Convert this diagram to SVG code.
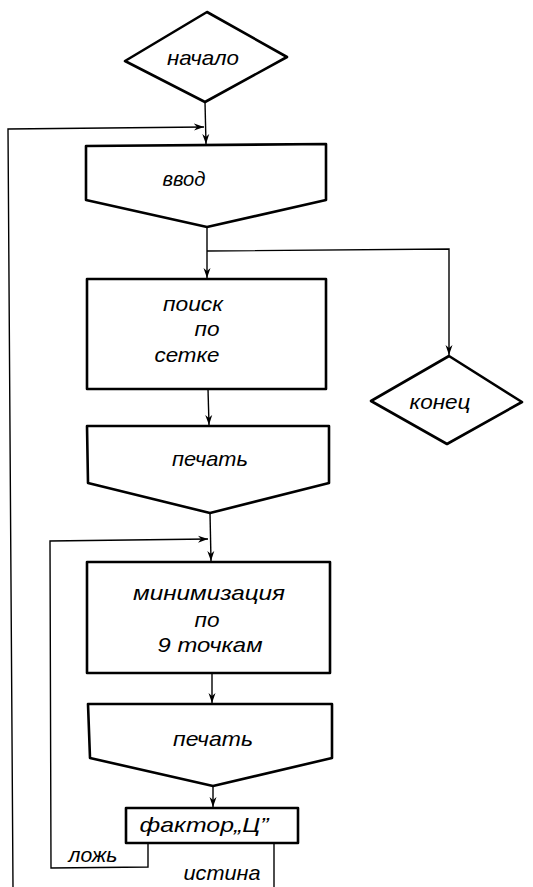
<svg xmlns="http://www.w3.org/2000/svg" width="533" height="887" viewBox="0 0 533 887">
<style>
.shape{fill:#fff;stroke:#000;stroke-width:2.6;stroke-linejoin:round}
.conn{fill:none;stroke:#000;stroke-width:1.4}
.t{font-family:"Liberation Sans",Arial,sans-serif;font-style:italic;font-size:21px;fill:#000}
</style>
<defs>
<marker id="ah" viewBox="0 0 10 10" refX="10" refY="5" markerWidth="10" markerHeight="10" markerUnits="userSpaceOnUse" orient="auto">
<path d="M0,1.5 L10,5 L0,8.5 L3,5 Z" fill="#000"/>
</marker>
</defs>
<rect width="533" height="887" fill="#fff"/>
<g id="connectors">
<line class="conn" x1="205" y1="102" x2="206" y2="144" marker-end="url(#ah)"/>
<polyline class="conn" points="13,887 8,129 204,127" marker-end="url(#ah)"/>
<line class="conn" x1="207" y1="228" x2="207" y2="278" marker-end="url(#ah)"/>
<polyline class="conn" points="207,251 449,249 449,355" marker-end="url(#ah)"/>
<line class="conn" x1="208" y1="389" x2="209" y2="425" marker-end="url(#ah)"/>
<line class="conn" x1="210" y1="513" x2="211" y2="561" marker-end="url(#ah)"/>
<polyline class="conn" points="148,843 148,867 51,868 50,541 208,539" marker-end="url(#ah)"/>
<line class="conn" x1="212" y1="673" x2="212" y2="703" marker-end="url(#ah)"/>
<line class="conn" x1="213" y1="786" x2="213" y2="807" marker-end="url(#ah)"/>
<line class="conn" x1="274" y1="843" x2="274" y2="887"/>
</g>
<g id="start">
<polygon class="shape" points="207,12 287,57 205,102 125,61"/>
<text class="t" x="203" y="65" text-anchor="middle" textLength="72" lengthAdjust="spacingAndGlyphs">начало</text>
</g>
<g id="input">
<polygon class="shape" points="86,146 326,144 326,200 207,227 86,200"/>
<text class="t" x="184" y="186" text-anchor="middle" textLength="43" lengthAdjust="spacingAndGlyphs">ввод</text>
</g>
<g id="search">
<rect class="shape" x="87" y="279" width="239" height="110"/>
<text class="t" x="193" y="311" text-anchor="middle" textLength="60" lengthAdjust="spacingAndGlyphs">поиск</text>
<text class="t" x="207" y="336" text-anchor="middle" textLength="25" lengthAdjust="spacingAndGlyphs">по</text>
<text class="t" x="187" y="362" text-anchor="middle" textLength="65" lengthAdjust="spacingAndGlyphs">сетке</text>
</g>
<g id="end">
<polygon class="shape" points="449,356 522,402 447,444 371,401"/>
<text class="t" x="440" y="409" text-anchor="middle" textLength="61" lengthAdjust="spacingAndGlyphs">конец</text>
</g>
<g id="print1">
<polygon class="shape" points="87,426 329,426 329,483 210,513 88,483"/>
<text class="t" x="210" y="466" text-anchor="middle" textLength="76" lengthAdjust="spacingAndGlyphs">печать</text>
</g>
<g id="minimize">
<rect class="shape" x="87" y="562" width="243" height="111"/>
<text class="t" x="209" y="600" text-anchor="middle" textLength="152" lengthAdjust="spacingAndGlyphs">минимизация</text>
<text class="t" x="207" y="627" text-anchor="middle" textLength="25" lengthAdjust="spacingAndGlyphs">по</text>
<text class="t" x="210" y="652" text-anchor="middle" textLength="105" lengthAdjust="spacingAndGlyphs">9 точкам</text>
</g>
<g id="print2">
<polygon class="shape" points="88,704 332,704 332,758 213,786 90,758"/>
<text class="t" x="213" y="746" text-anchor="middle" textLength="80" lengthAdjust="spacingAndGlyphs">печать</text>
</g>
<g id="factor">
<rect class="shape" x="126" y="808" width="172" height="35"/>
<text class="t" x="204" y="832" text-anchor="middle" textLength="129" lengthAdjust="spacingAndGlyphs">фактор„Ц”</text>
</g>
<g id="labels">
<text class="t" x="93" y="862" text-anchor="middle" textLength="49" lengthAdjust="spacingAndGlyphs">ложь</text>
<text class="t" x="222" y="880" text-anchor="middle" textLength="77" lengthAdjust="spacingAndGlyphs">истина</text>
</g>
</svg>
